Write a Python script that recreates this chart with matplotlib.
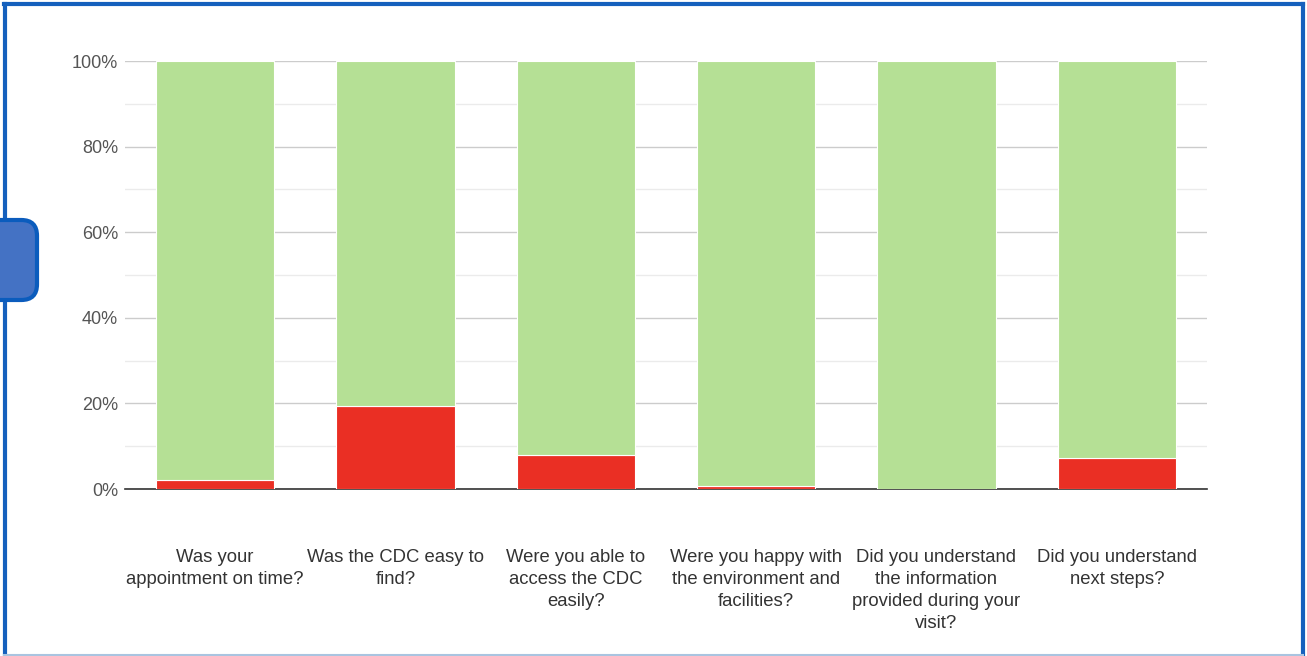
import matplotlib.pyplot as plt
from matplotlib.patches import FancyBboxPatch
from matplotlib.lines import Line2D
from matplotlib.ticker import MultipleLocator, FuncFormatter

plt.rcParams['font.family'] = ['Liberation Sans', 'DejaVu Sans']

questions = [
    'Was your\nappointment on time?',
    'Was the CDC easy to\nfind?',
    'Were you able to\naccess the CDC\neasily?',
    'Were you happy with\nthe environment and\nfacilities?',
    'Did you understand\nthe information\nprovided during your\nvisit?',
    'Did you understand\nnext steps?',
]
no_pct = [2.1, 19.4, 7.9, 0.6, 0.0, 7.2]
yes_pct = [100 - v for v in no_pct]

red = '#EA2F24'
green = '#B5E095'

fig = plt.figure(figsize=(13.07, 6.56), dpi=100)
ax = fig.add_axes([125 / 1307, 1 - 489 / 656, (1207 - 125) / 1307, (489 - 61) / 656])

x = range(len(questions))
ax.bar(x, no_pct, width=0.655, color=red, edgecolor='white', linewidth=0.8, zorder=3)
ax.bar(x, yes_pct, bottom=no_pct, width=0.655, color=green, edgecolor='white', linewidth=0.8, zorder=3)

ax.set_xlim(-0.5, len(questions) - 0.5)
ax.set_ylim(0, 100)
ax.yaxis.set_major_locator(MultipleLocator(20))
ax.yaxis.set_minor_locator(MultipleLocator(10))
ax.yaxis.set_major_formatter(FuncFormatter(lambda v, p: '%d%%' % v))
ax.grid(axis='y', which='major', color='#CCCCCC', linewidth=1, zorder=0)
ax.grid(axis='y', which='minor', color='#EBEBEB', linewidth=1, zorder=0)
ax.set_axisbelow(True)
for s in ['top', 'right', 'left']:
    ax.spines[s].set_visible(False)
ax.spines['bottom'].set_color('#333333')
ax.spines['bottom'].set_linewidth(1.2)
ax.tick_params(axis='y', which='both', length=0, pad=5, labelsize=13, labelcolor='#555555')
ax.tick_params(axis='x', length=0, pad=43, labelsize=13.3, labelcolor='#333333')
ax.set_xticks(list(x))
ax.set_xticklabels(questions, linespacing=1.4, va='top')

# frame around the picture
blue = '#1560BD'
W, H = 1307, 656
fig.lines.append(Line2D([4 / W, 1303 / W], [1 - 4 / H, 1 - 4 / H], transform=fig.transFigure, color=blue, lw=3))
fig.lines.append(Line2D([5 / W, 5 / W], [0, 1 - 4 / H], transform=fig.transFigure, color=blue, lw=3))
fig.lines.append(Line2D([1303 / W, 1303 / W], [0, 1 - 4 / H], transform=fig.transFigure, color=blue, lw=3))
fig.lines.append(Line2D([4 / W, 1303 / W], [1 / H, 1 / H], transform=fig.transFigure, color='#A9C4E0', lw=1.5))
fig.patches.append(FancyBboxPatch((-20 / W, 1 - 300 / H), 57 / W, 80 / H,
                                  boxstyle='round,pad=0,rounding_size=0.012', transform=fig.transFigure,
                                  facecolor='#4472C4', edgecolor='#0B5CBD', linewidth=3, zorder=11,
                                  mutation_aspect=2))

fig.savefig('out.png', dpi=100)
